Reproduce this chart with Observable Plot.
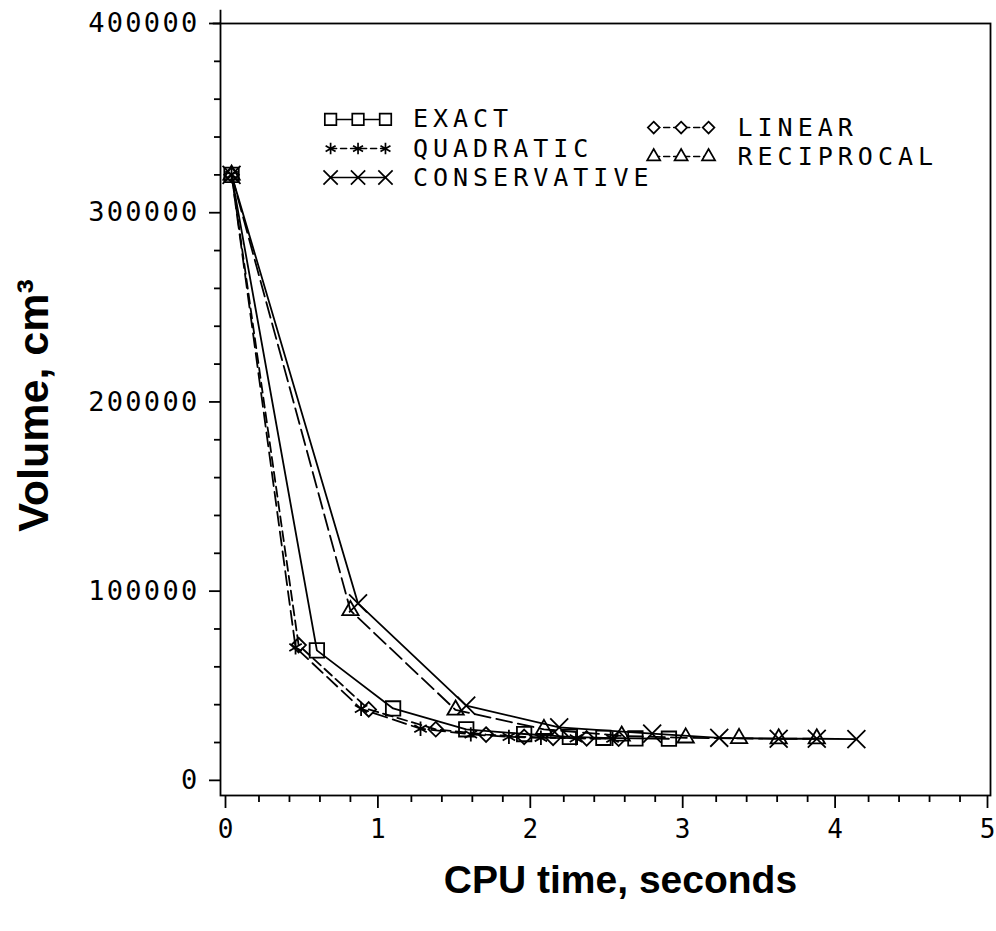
<!DOCTYPE html>
<html>
<head>
<meta charset="utf-8">
<script src="https://cdn.jsdelivr.net/npm/d3@7"></script>
<script src="https://cdn.jsdelivr.net/npm/@observablehq/plot@0.6"></script>
<style>
  html, body { margin: 0; padding: 0; background: #fff; }
  svg { display: block; }
</style>
</head>
<body>
<div id="chart"></div>
<script>
// ---- data ----
const exactTime = [0.02, 0.58, 1.08, 1.56, 1.94, 2.24, 2.46, 2.67, 2.89];
const exactVolume = [320000, 68700, 38000, 27000, 24500, 23000, 22500, 22200, 22000];

const quadraticTime = [0.02, 0.44, 0.87, 1.26, 1.59, 1.84, 2.05, 2.28, 2.52];
const quadraticVolume = [320000, 70300, 37800, 27300, 24300, 23000, 22500, 22200, 22000];

const linearTime = [0.02, 0.46, 0.92, 1.36, 1.69, 1.94, 2.13, 2.35, 2.56];
const linearVolume = [320000, 71500, 37500, 27000, 24200, 23000, 22500, 22200, 22000];

const reciprocalTime = [0.02, 0.80, 1.49, 2.07, 2.58, 3.00, 3.35, 3.61, 3.86];
const reciprocalVolume = [320000, 89800, 37200, 27000, 23500, 22500, 22200, 22000, 22000];

const conservativeTime = [0.02, 0.85, 1.56, 2.17, 2.78, 3.22, 3.61, 3.86, 4.12];
const conservativeVolume = [320000, 93500, 39500, 28000, 24700, 22500, 22000, 22000, 21800];

const xTicks = [0, 1, 2, 3, 4, 5];
const xMinorTicks = [0.2, 0.4, 0.6, 0.8, 1.2, 1.4, 1.6, 1.8, 2.2, 2.4, 2.6, 2.8, 3.2, 3.4, 3.6, 3.8, 4.2, 4.4, 4.6, 4.8];
const yTicks = [0, 100000, 200000, 300000, 400000];
const yMinorTicks = [20000, 40000, 60000, 80000, 120000, 140000, 160000, 180000, 220000, 240000, 260000, 280000, 320000, 340000, 360000, 380000];

const seriesNames = ["EXACT", "QUADRATIC", "CONSERVATIVE", "LINEAR", "RECIPROCAL"];
const xTitle = "CPU time, seconds";
const yTitle = "Volume, cm³";

// ---- build tables ----
const toRows = (t, v) => t.map((d, i) => ({time: d, volume: v[i]}));
const series = {
  EXACT:        {rows: toRows(exactTime, exactVolume),               symbol: "square2",  r: 9.2, dash: null},
  QUADRATIC:    {rows: toRows(quadraticTime, quadraticVolume),       symbol: "asterisk", r: 6.8, dash: "14,6"},
  CONSERVATIVE: {rows: toRows(conservativeTime, conservativeVolume), symbol: "times",    r: 8.2, dash: null},
  LINEAR:       {rows: toRows(linearTime, linearVolume),             symbol: "diamond2", r: 6.6, dash: "10,5"},
  RECIPROCAL:   {rows: toRows(reciprocalTime, reciprocalVolume),     symbol: "triangle2", r: 7.8, dash: "16,6"}
};

// legend layout (in data units, inside the frame)
const legendLayout = {
  EXACT:        {xs: [0.67, 0.85, 1.03], text: 1.21, y: 349300},
  QUADRATIC:    {xs: [0.67, 0.85, 1.03], text: 1.21, y: 333900},
  CONSERVATIVE: {xs: [0.67, 0.85, 1.03], text: 1.21, y: 318600},
  LINEAR:       {xs: [2.79, 2.97, 3.15], text: 3.34, y: 345000},
  RECIPROCAL:   {xs: [2.79, 2.97, 3.15], text: 3.34, y: 329700}
};

const SW = 1.8;
const marks = [];

// curves
for (const name of seriesNames) {
  const s = series[name];
  marks.push(Plot.line(s.rows, {x: "time", y: "volume", stroke: "black", strokeWidth: SW, strokeDasharray: s.dash}));
}
for (const name of seriesNames) {
  const s = series[name];
  marks.push(Plot.dot(s.rows, {x: "time", y: "volume", symbol: () => s.symbol, r: s.r, stroke: "black", fill: "none", strokeWidth: SW}));
}

// legend
for (const name of seriesNames) {
  const s = series[name];
  const L = legendLayout[name];
  const rows = L.xs.map(x => ({x, y: L.y}));
  marks.push(Plot.line(rows, {x: "x", y: "y", stroke: "black", strokeWidth: 1.6, strokeDasharray: s.dash ? "6,4" : null}));
  marks.push(Plot.dot(rows, {x: "x", y: "y", symbol: () => s.symbol, r: s.r * 0.8, stroke: "black", fill: "white", strokeWidth: 1.7}));
  marks.push(Plot.text([name], {x: L.text, y: L.y, text: d => d, textAnchor: "start", fontSize: 25, fontFamily: "DejaVu Sans Mono", fill: "black"}));
}

const chart = Plot.plot({
  width: 996,
  height: 931,
  marginLeft: 220,
  marginRight: 6,
  marginTop: 23,
  marginBottom: 136,
  x: {domain: [-0.0525, 5]},
  y: {domain: [-8000, 400000]},
  style: {fontFamily: "DejaVu Sans Mono", fontSize: "27px", color: "black", background: "white", overflow: "visible"},
  marks: [
    Plot.frame({stroke: "black", strokeWidth: SW}),
    Plot.ruleX([-0.0525], {y1: 400000, y2: 407000, stroke: "black", strokeWidth: SW}),
    Plot.ruleY([400000], {x1: -0.1, x2: -0.0525, stroke: "black", strokeWidth: SW}),
    Plot.axisX({ticks: xTicks, tickSize: 13, tickPadding: 11, tickFormat: d => String(d), label: null, strokeWidth: SW, fontSize: 26, dx: -3}),
    Plot.axisX({ticks: xMinorTicks, tickSize: 7, tickFormat: () => "", label: null, strokeWidth: SW}),
    Plot.axisY({ticks: yTicks, tickSize: 11, tickPadding: 10, tickFormat: d => String(d), label: null, strokeWidth: SW, fontSize: 27}),
    Plot.axisY({ticks: yMinorTicks, tickSize: 6, tickFormat: () => "", label: null, strokeWidth: SW}),
    Plot.text([yTitle], {frameAnchor: "left", dx: -186, dy: -4, rotate: -90, text: d => d, textAnchor: "middle",
      fontFamily: "Liberation Sans, Arial, sans-serif", fontWeight: "bold", fontSize: 43, fill: "black"}),
    Plot.text([xTitle], {frameAnchor: "bottom", dx: 15, dy: 97, text: d => d, textAnchor: "middle",
      fontFamily: "Liberation Sans, Arial, sans-serif", fontWeight: "bold", fontSize: 39, fill: "black"}),
    ...marks
  ]
});

// letter spacing for plotter-like lettering
const svg = chart.tagName === "svg" ? chart : chart.querySelector("svg");
svg.querySelectorAll('g[aria-label="y-axis tick label"] text')
  .forEach(t => t.style.letterSpacing = "2.3px");
svg.querySelectorAll("text").forEach(t => {
  if (seriesNames.includes(t.textContent)) t.style.letterSpacing = "5px";
});

document.getElementById("chart").appendChild(chart);
</script>
</body>
</html>
